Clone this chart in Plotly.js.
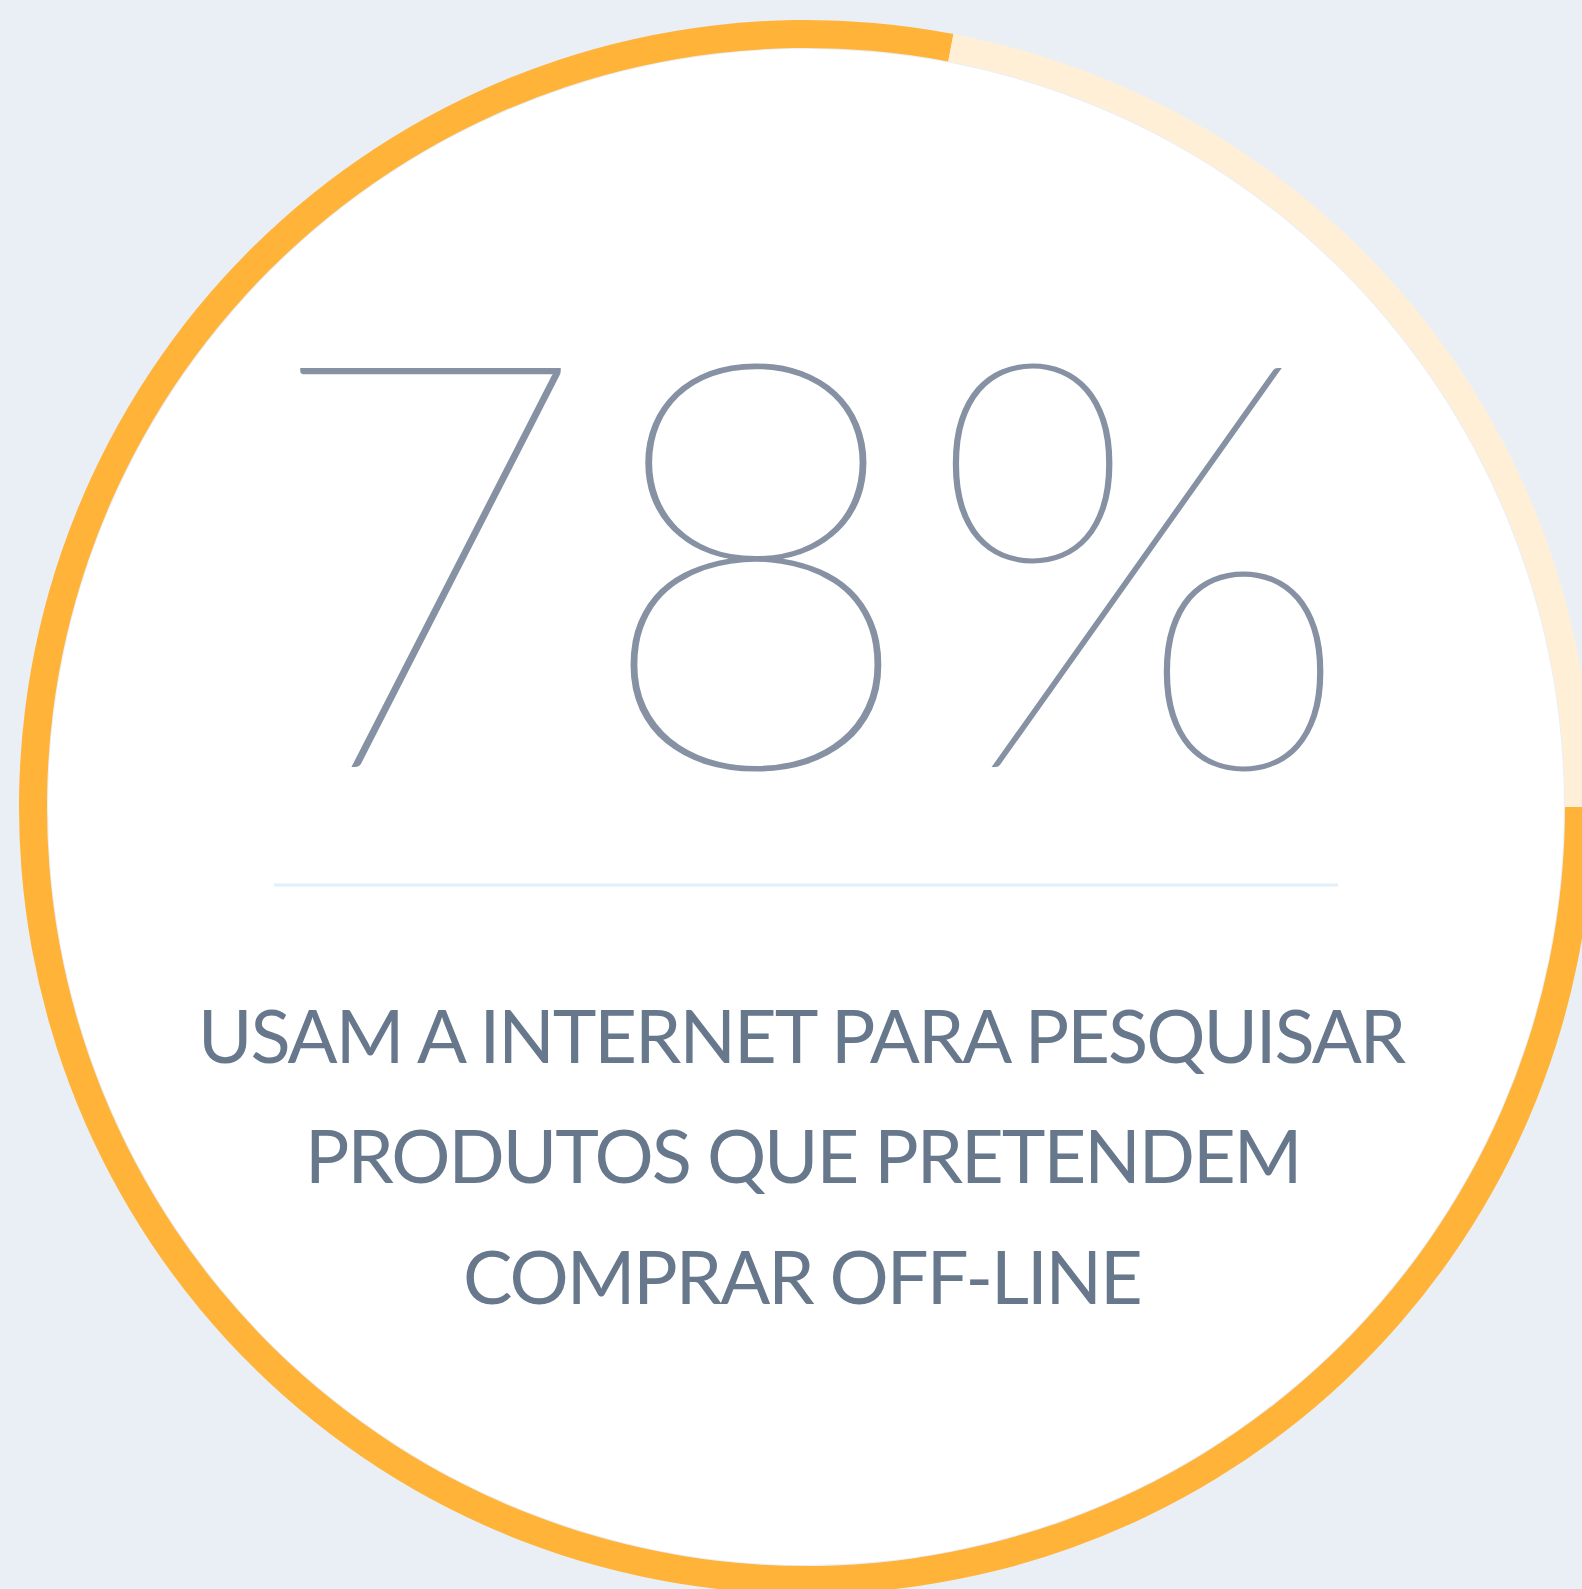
<!DOCTYPE html>
<html>
<head>
<meta charset="utf-8">
<script src="https://cdn.plot.ly/plotly-3.0.1.min.js"></script>
<style>
  html, body { margin: 0; padding: 0; overflow: hidden; background: #EAEFF6; }
  #chart { width: 1612px; height: 1614px; }
</style>
</head>
<body>
<div id="chart"></div>
<script>
// ---- data ----
const segLabels = ['Usam a internet para pesquisar', 'Restante'];
const segValues = [78, 22];
const segColors = ['#FFB338', '#FFEFD7'];
const captionLines = ['USAM A INTERNET PARA PESQUISAR', 'PRODUTOS QUE PRETENDEM', 'COMPRAR OFF-LINE'];
const bigLabel = segValues[0] + '%';

// ---- geometry (pixels of the drawing surface) ----
const W = 1612, H = 1614;
const cx = 806, cy = 807, R = 787, ring = 28;
const px = x => x / W;
const py = y => 1 - y / H;

const trace = {
  type: 'pie',
  labels: segLabels,
  values: segValues,
  sort: false,
  direction: 'clockwise',
  rotation: 90,
  hole: (R - ring) / R,
  textinfo: 'none',
  hoverinfo: 'none',
  showlegend: false,
  marker: { colors: segColors, line: { width: 0 } },
  domain: { x: [px(cx - R), px(cx + R)], y: [py(cy + R), py(cy - R)] }
};

const capY = [1034, 1154, 1275];
const annotations = [
  {
    text: bigLabel,
    xref: 'paper', yref: 'paper', x: px(807), y: py(546),
    xanchor: 'center', yanchor: 'middle', showarrow: false,
    font: { family: 'Lato, sans-serif', size: 570, weight: 100, color: '#8692A4' }
  }
].concat(captionLines.map((t, i) => ({
  text: '<span style="letter-spacing:-2px">' + t + '</span>',
  xref: 'paper', yref: 'paper', x: px(802), y: py(capY[i]),
  xanchor: 'center', yanchor: 'middle', showarrow: false,
  font: { family: 'Lato, "Noto Sans", sans-serif', size: 74, color: '#67788D' }
})));

const layout = {
  width: W, height: H,
  margin: { l: 0, r: 0, t: 0, b: 0 },
  paper_bgcolor: '#EAEFF6',
  plot_bgcolor: '#EAEFF6',
  showlegend: false,
  shapes: [
    { type: 'circle', xref: 'paper', yref: 'paper', layer: 'below',
      x0: px(cx - R + ring + 1), x1: px(cx + R - ring - 1),
      y0: py(cy + R - ring - 1), y1: py(cy - R + ring + 1),
      fillcolor: '#FFFFFF', line: { width: 0 } },
    { type: 'line', xref: 'paper', yref: 'paper', layer: 'above',
      x0: px(274), x1: px(1338), y0: py(885), y1: py(885),
      line: { color: '#E2F0F9', width: 3 } }
  ],
  annotations: annotations
};

Plotly.newPlot('chart', [trace], layout, { displayModeBar: false, staticPlot: true });
</script>
</body>
</html>
